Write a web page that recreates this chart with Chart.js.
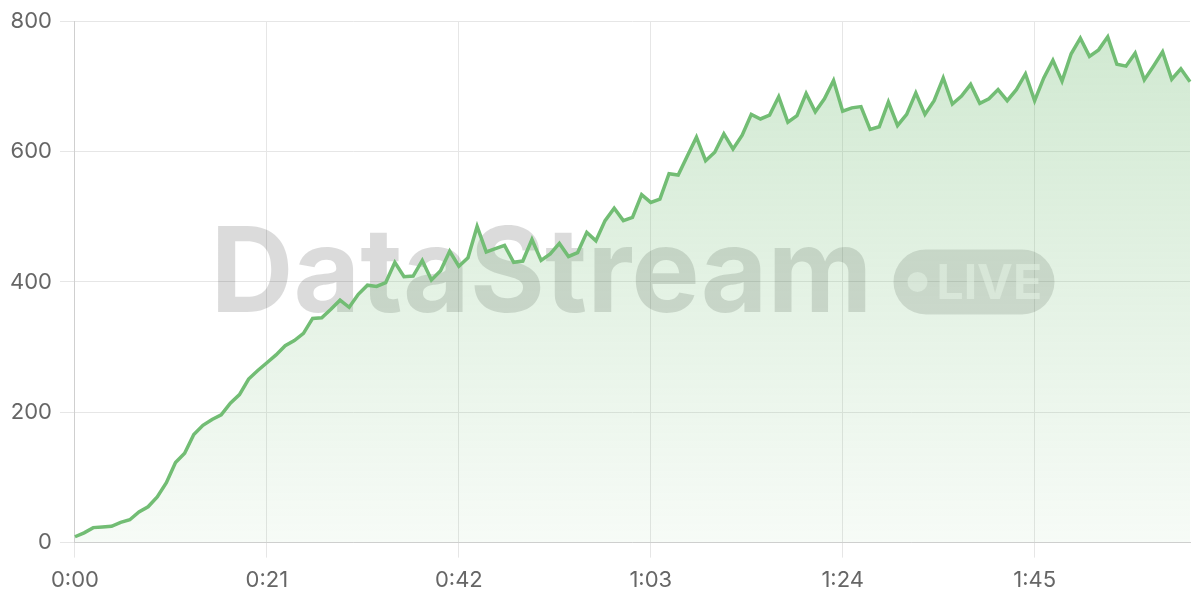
<!DOCTYPE html>
<html>
<head>
<meta charset="utf-8">
<script src="https://cdn.jsdelivr.net/npm/chart.js@4/dist/chart.umd.min.js"></script>
<style>
  html, body { margin: 0; padding: 0; background: #ffffff; }
  #wrap { width: 1200px; height: 600px; position: relative; }
</style>
</head>
<body>
<div id="wrap"><canvas id="c" width="1200" height="600"></canvas></div>
<script>
// Elapsed seconds (one sample per second)
const seconds = Array.from({length: 123}, (_, i) => i);
// Values per second
const values = [
  9, 15, 23, 24, 25, 31, 35, 47, 55, 70,
  92, 123, 137, 166, 180, 189, 196, 214, 227, 251,
  264, 276, 288, 302, 310, 321, 344, 345, 358, 372,
  361, 381, 395, 393, 399, 430, 408, 409, 433, 403,
  417, 447, 424, 437, 485, 446, 451, 456, 430, 432,
  465, 433, 443, 459, 439, 445, 476, 463, 494, 513,
  494, 499, 534, 522, 527, 566, 564, 593, 622, 586,
  599, 627, 604, 625, 657, 650, 656, 684, 645, 655,
  689, 661, 681, 709, 662, 667, 669, 634, 638, 676,
  640, 657, 690, 657, 678, 713, 673, 685, 703, 674,
  681, 695, 678, 695, 719, 678, 713, 740, 708, 750,
  774, 746, 756, 776, 734, 731, 751, 710, 731, 753,
  711, 727, 707
];
const xTickEvery = 21;
const yTicks = [0, 200, 400, 600, 800];
const watermarkText = 'DataStream';
const badgeText = 'LIVE';

function fmt(s) {
  const m = Math.floor(s / 60), r = s % 60;
  return m + ':' + (r < 10 ? '0' : '') + r;
}
const labels = seconds.map(fmt);

const LINE = 'rgb(114,189,116)';

const watermark = {
  id: 'watermark',
  beforeDatasetsDraw(chart) {
    const ctx = chart.ctx, a = chart.chartArea;
    ctx.save();
    const fontSize = 118;
    ctx.font = '700 ' + fontSize + 'px Inter, "Liberation Sans", sans-serif';
    let tw = ctx.measureText(watermarkText).width;
    const targetW = 662;
    const sx = targetW / tw;
    const gap = 21, pillW = 161, pillH = 65;
    const total = targetW + gap + pillW;
    const cx = (a.left + a.right) / 2, cy = (a.top + a.bottom) / 2;
    const x0 = cx - total / 2;
    const baseY = cy + 30;
    ctx.fillStyle = 'rgba(0,0,0,0.14)';
    ctx.textBaseline = 'alphabetic';
    ctx.textAlign = 'left';
    ctx.save();
    ctx.translate(x0, baseY);
    ctx.scale(sx, 1);
    ctx.fillText(watermarkText, 0, 0);
    ctx.restore();
    // pill
    const px = x0 + targetW + gap, py = cy - pillH / 2;
    const r = pillH / 2;
    ctx.beginPath();
    ctx.moveTo(px + r, py);
    ctx.lineTo(px + pillW - r, py);
    ctx.arc(px + pillW - r, py + r, r, -Math.PI / 2, Math.PI / 2);
    ctx.lineTo(px + r, py + pillH);
    ctx.arc(px + r, py + r, r, Math.PI / 2, Math.PI * 1.5);
    ctx.closePath();
    ctx.fillStyle = 'rgba(0,0,0,0.13)';
    ctx.fill();
    ctx.fillStyle = 'rgba(255,255,255,0.55)';
    ctx.beginPath();
    ctx.arc(px + 24, cy, 10, 0, Math.PI * 2);
    ctx.fill();
    ctx.font = '700 48px Inter, "Liberation Sans", sans-serif';
    ctx.fillText(badgeText, px + 43, cy + 17);
    ctx.restore();
  }
};

const ctx = document.getElementById('c').getContext('2d');
new Chart(ctx, {
  type: 'line',
  data: {
    labels: labels,
    datasets: [{
      data: values,
      borderColor: LINE,
      borderWidth: 3.5,
      pointRadius: 0,
      tension: 0,
      fill: 'origin',
      backgroundColor(c) {
        const a = c.chart.chartArea;
        if (!a) return 'rgba(112,187,114,0.2)';
        const g = c.chart.ctx.createLinearGradient(0, a.top, 0, a.bottom);
        g.addColorStop(0, 'rgba(112,187,114,0.33)');
        g.addColorStop(1, 'rgba(112,187,114,0.06)');
        return g;
      }
    }]
  },
  options: {
    responsive: false,
    animation: false,
    layout: { padding: { top: 11, right: 10, left: 2, bottom: -4 } },
    plugins: { legend: { display: false }, tooltip: { enabled: false } },
    scales: {
      x: {
        type: 'category',
        offset: false,
        grid: { color: '#e6e6e6', tickLength: 15, drawTicks: true },
        border: { color: '#cfcfcf' },
        ticks: {
          autoSkip: false, maxRotation: 0, padding: 10,
          color: '#666', font: { family: 'Inter, sans-serif', size: 22 },
          callback(v, i) { return i % xTickEvery === 0 ? labels[i] : null; }
        }
      },
      y: {
        min: yTicks[0], max: yTicks[yTicks.length - 1],
        afterBuildTicks(axis) { axis.ticks = yTicks.map(v => ({ value: v })); },
        grid: { color: '#e6e6e6', tickLength: 15 },
        border: { color: '#cfcfcf' },
        ticks: {
          padding: 8,
          color: '#666', font: { family: 'Inter, sans-serif', size: 22 }
        }
      }
    }
  },
  plugins: [watermark]
});
</script>
</body>
</html>
